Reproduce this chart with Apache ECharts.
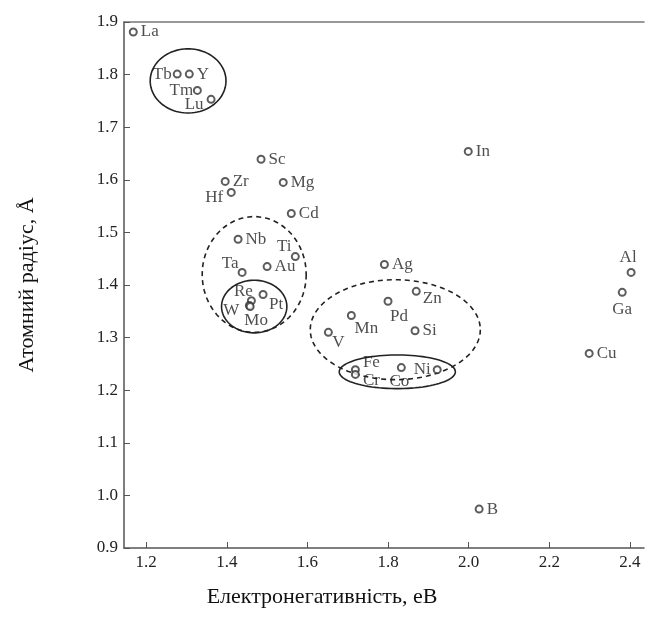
<!DOCTYPE html>
<html>
<head>
<meta charset="utf-8">
<script src="https://cdn.jsdelivr.net/npm/echarts@6/dist/echarts.min.js"></script>
<style>
  html, body { margin: 0; background: #fff; }
  #chart { width: 646px; height: 620px; }
</style>
</head>
<body>
<div id="chart"></div>
<script>
// елементи, електронегативність (eB), атомний радіус (Å)
const elements = ['La', 'Tb', 'Y', 'Tm', 'Lu', 'Sc', 'Zr', 'Mg', 'Hf', 'Cd', 'Nb', 'Ti', 'Ta', 'Au',
  'Re', 'W', 'Mo', 'Pt', 'In', 'Ag', 'Zn', 'Pd', 'Mn', 'Si', 'V', 'Fe', 'Cr', 'Co', 'Ni', 'Al', 'Ga', 'Cu', 'B'];
const electroneg = [1.168, 1.277, 1.307, 1.327, 1.361, 1.485, 1.396, 1.540, 1.411, 1.560, 1.428, 1.570, 1.438, 1.500,
  1.461, 1.456, 1.458, 1.490, 1.999, 1.791, 1.870, 1.800, 1.709, 1.867, 1.652, 1.719, 1.719, 1.833, 1.922, 2.403, 2.381, 2.299, 2.026];
const radius = [1.881, 1.801, 1.801, 1.770, 1.753, 1.639, 1.597, 1.595, 1.576, 1.536, 1.487, 1.454, 1.424, 1.435,
  1.370, 1.361, 1.359, 1.382, 1.654, 1.439, 1.388, 1.369, 1.342, 1.313, 1.310, 1.239, 1.230, 1.243, 1.239, 1.424, 1.386, 1.270, 0.974];

// групи (еліпси) в одиницях осей
const groupCx = [1.304, 1.468, 1.468, 1.818, 1.823];
const groupCy = [1.788, 1.420, 1.359, 1.315, 1.235];
const groupRx = [0.094, 0.129, 0.081, 0.211, 0.144];
const groupRy = [0.061, 0.110, 0.050, 0.095, 0.032];
const groupDashed = [0, 1, 0, 1, 0];

const xTicks = [1.2, 1.4, 1.6, 1.8, 2.0, 2.2, 2.4];

// зсув підпису відносно маркера (px), інакше праворуч
const labelShift = {
  Tb: [-15, 0], Tm: [-16, 0], Lu: [-17, 5], Hf: [-17, 5],
  Ti: [-11, -10], Ta: [-12, -9], Re: [-8, -9], W: [-18, 5], Mo: [6, 14], Pt: [13, 10],
  Zn: [16, 7], Pd: [11, 15], Mn: [15, 13], V: [10, 10],
  Fe: [16, -7], Cr: [16, 6], Co: [-2, 14], Ni: [-15, 0],
  Al: [-3, -15], Ga: [0, 17]
};

const font = 'Liberation Serif';

const points = elements.map((name, i) => {
  const sh = labelShift[name];
  const item = { name: name, value: [electroneg[i], radius[i]] };
  if (sh) {
    item.label = { position: ['50%', '50%'], align: 'center', verticalAlign: 'middle', offset: sh };
  }
  return item;
});

const groups = groupCx.map((c, i) => [c, groupCy[i], groupRx[i], groupRy[i], groupDashed[i]]);

const chart = echarts.init(document.getElementById('chart'));
chart.setOption({
  animation: false,
  backgroundColor: '#fff',
  grid: { left: 124, right: 2, top: 22, bottom: 72 },
  xAxis: [{
    type: 'value',
    min: 1.145,
    max: 2.435,
    name: 'Електронегативність, еВ',
    nameLocation: 'middle',
    nameGap: 38,
    nameTextStyle: { fontFamily: font, fontSize: 22, color: '#111', padding: [0, 124, 0, 0] },
    axisLine: { lineStyle: { color: '#555', width: 1.5 } },
    axisTick: { inside: true, length: 6, lineStyle: { color: '#555' }, customValues: xTicks },
    axisLabel: {
      fontFamily: font, fontSize: 17, color: '#222', margin: 6,
      customValues: xTicks,
      formatter: v => v.toFixed(1)
    },
    splitLine: { show: false }
  }, {
    type: 'value',
    position: 'top',
    min: 1.145,
    max: 2.435,
    axisLine: { show: true, lineStyle: { color: '#777', width: 1.5 } },
    axisTick: { show: false },
    axisLabel: { show: false },
    splitLine: { show: false }
  }],
  yAxis: {
    type: 'value',
    min: 0.9,
    max: 1.9,
    interval: 0.1,
    name: 'Атомний радіус, Å',
    nameLocation: 'middle',
    nameGap: 86,
    nameTextStyle: { fontFamily: font, fontSize: 22, color: '#111' },
    axisLine: { show: true, lineStyle: { color: '#555', width: 1.5 } },
    axisTick: { show: true, inside: true, length: 6, lineStyle: { color: '#555' } },
    axisLabel: { fontFamily: font, fontSize: 17, color: '#222', margin: 6, formatter: v => v.toFixed(1) },
    splitLine: { show: false }
  },
  series: [{
    type: 'custom',
    silent: true,
    z: 1,
    data: groups,
    encode: { x: 0, y: 1 },
    renderItem: function (params, api) {
      const c = api.coord([api.value(0), api.value(1)]);
      const s = api.size([api.value(2), api.value(3)]);
      const pts = [];
      for (let k = 0; k <= 90; k++) {
        const a = k / 90 * Math.PI * 2;
        pts.push([c[0] + s[0] * Math.cos(a), c[1] + s[1] * Math.sin(a)]);
      }
      return {
        type: 'polygon',
        shape: { points: pts },
        style: {
          fill: 'none',
          stroke: '#222',
          lineWidth: 1.6,
          lineDash: api.value(4) ? [5, 4] : null
        }
      };
    }
  }, {
    type: 'scatter',
    z: 3,
    symbol: 'emptyCircle',
    symbolSize: 7,
    itemStyle: { color: '#333', borderWidth: 1 },
    label: {
      show: true,
      position: 'right',
      distance: 3,
      formatter: '{b}',
      fontFamily: font,
      fontSize: 17,
      color: '#222'
    },
    data: points
  }]
});
</script>
</body>
</html>
